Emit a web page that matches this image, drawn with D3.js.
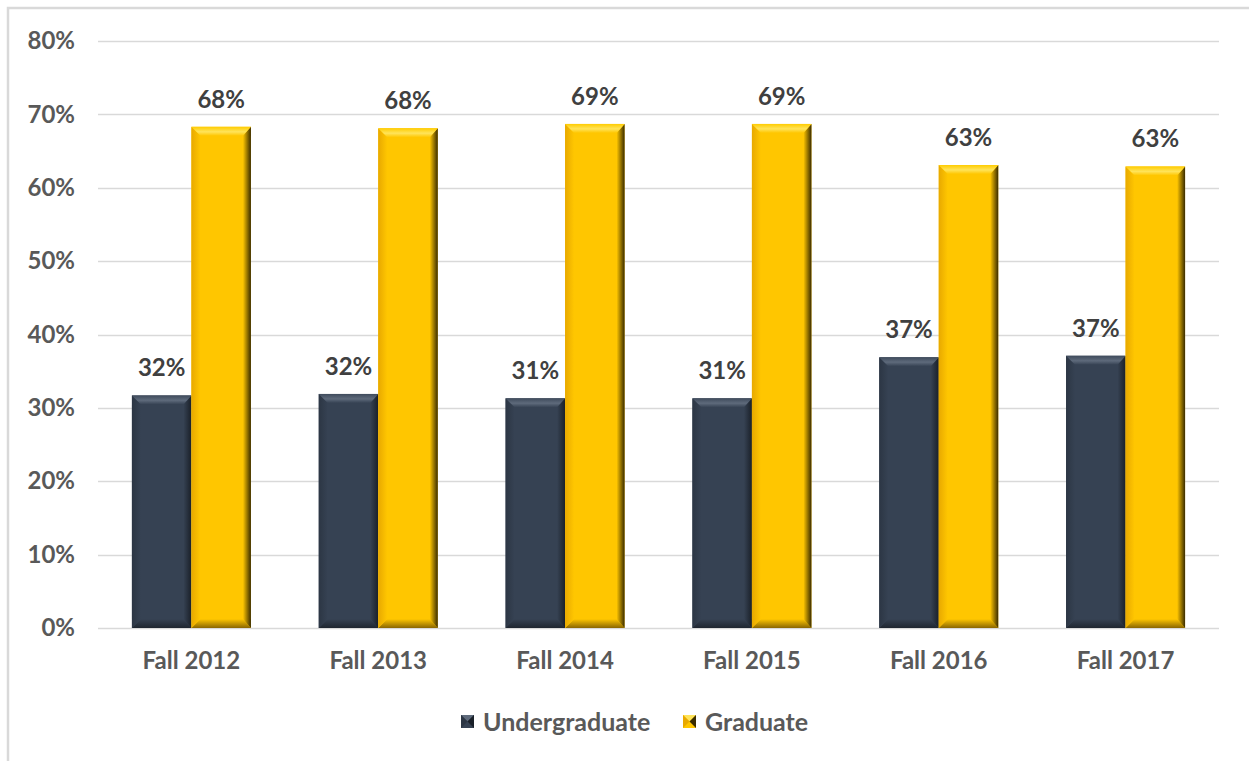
<!DOCTYPE html>
<html><head><meta charset="utf-8">
<script src="https://cdn.jsdelivr.net/npm/d3@7"></script>
<style>body{margin:0;background:#fff}svg{display:block}</style>
</head><body>
<script>
const categories = ["Fall 2012","Fall 2013","Fall 2014","Fall 2015","Fall 2016","Fall 2017"];
const seriesNames = ["Undergraduate","Graduate"];
const undergraduate = [31.7, 31.9, 31.3, 31.3, 36.9, 37.1];
const graduate = [68.3, 68.1, 68.7, 68.7, 63.1, 62.9];
const undergradLabels = ["32%","32%","31%","31%","37%","37%"];
const gradLabels = ["68%","68%","69%","69%","63%","63%"];
const yTicks = [0,10,20,30,40,50,60,70,80];

const W = 1249, H = 761;
const svg = d3.select("body").append("svg").attr("width", W).attr("height", H);
const font = "Lato, 'Open Sans', sans-serif";
const txt = "#595959";
const defs = svg.append("defs");

// outer border
svg.append("rect").attr("x", 8).attr("y", 8).attr("width", W).attr("height", H)
  .attr("fill", "none").attr("stroke", "#d9d9d9").attr("stroke-width", 2.5);

const x0 = d3.scaleBand().domain(categories).range([98, 1219]);
const x1 = d3.scaleBand().domain(seriesNames).range([0, x0.bandwidth()]).paddingOuter(0.57).paddingInner(0);
const y = d3.scaleLinear().domain([0, 80]).range([628, 41]);

// grid
svg.append("g").selectAll("line").data(yTicks).join("line")
  .attr("x1", 98).attr("x2", 1219)
  .attr("y1", d => Math.round(y(d)) + 0.5).attr("y2", d => Math.round(y(d)) + 0.5)
  .attr("stroke", "#d9d9d9").attr("stroke-width", 1.5);

// y axis labels
const yAxis = d3.axisLeft(y).tickValues(yTicks).tickFormat(d => d + "%").tickSize(0).tickPadding(0);
const ya = svg.append("g").attr("transform", "translate(75,0)").call(yAxis);
ya.select(".domain").remove();
ya.selectAll("text").attr("font-family", font).attr("font-weight", 700)
  .attr("font-size", 24).attr("fill", txt);

// x axis labels
const xAxis = d3.axisBottom(x0).tickSize(0).tickPadding(0);
const xa = svg.append("g").attr("transform", "translate(0,652)").call(xAxis);
xa.select(".domain").remove();
xa.selectAll("text").attr("font-family", font).attr("font-weight", 700)
  .attr("font-size", 24).attr("fill", txt);

const styles = {
  Undergraduate: {id:"ug", base:"#364253", topA:"#3f4b5c", topB:"#5e6a7b", left:["#2c3644","#364253"], right:["#364253","#1a2029"], bottom:["#364253","#1f2630"]},
  Graduate: {id:"gr", base:"#ffc600", topA:"#ffcc00", topB:"#ffe45a", left:["#e8a900","#ffc600"], right:["#ffc600","#3a2c00"], bottom:["#ffc600","#8a6600"]}
};

function grad(id, stops, vertical) {
  const g = defs.append("linearGradient").attr("id", id)
    .attr("x1", 0).attr("y1", 0).attr("x2", vertical ? 0 : 1).attr("y2", vertical ? 1 : 0);
  stops.forEach(([o, c]) => g.append("stop").attr("offset", o).attr("stop-color", c));
}
Object.values(styles).forEach(s => {
  grad(s.id + "-top", [[0, s.topA], [0.55, s.topB], [1, s.base]], true);
  grad(s.id + "-left", [[0, s.left[0]], [1, s.left[1]]], false);
  grad(s.id + "-right", [[0, s.right[0]], [1, s.right[1]]], false);
  grad(s.id + "-bottom", [[0, s.bottom[0]], [1, s.bottom[1]]], true);
});

function bevelBar(g, xL, yT, w, h, s) {
  const b = Math.min(9, h / 2), br = 8, xr = xL + w, yb = yT + h;
  g.append("rect").attr("x", xL).attr("y", yT).attr("width", w).attr("height", h).attr("fill", s.base);
  g.append("polygon").attr("points", [[xL,yb],[xL+b,yb-b],[xr-br,yb-b],[xr,yb]].join(" ")).attr("fill", `url(#${s.id}-bottom)`);
  g.append("polygon").attr("points", [[xL,yT],[xL+b,yT+b],[xL+b,yb-b],[xL,yb]].join(" ")).attr("fill", `url(#${s.id}-left)`);
  g.append("polygon").attr("points", [[xr,yT],[xr-br,yT+b],[xr-br,yb-b],[xr,yb]].join(" ")).attr("fill", `url(#${s.id}-right)`);
  g.append("polygon").attr("points", [[xL,yT],[xr,yT],[xr-br,yT+b],[xL+b,yT+b]].join(" ")).attr("fill", `url(#${s.id}-top)`);
}

const bars = svg.append("g");
categories.forEach((c, i) => {
  [[seriesNames[0], undergraduate[i], undergradLabels[i]], [seriesNames[1], graduate[i], gradLabels[i]]].forEach(([s, v, lab]) => {
    const xL = x0(c) + x1(s), w = x1.bandwidth();
    bevelBar(bars, xL, y(v), w, y(0) - y(v), styles[s]);
    svg.append("text").attr("x", xL + w / 2).attr("y", y(v) - 19)
      .attr("text-anchor", "middle").attr("font-family", font).attr("font-weight", 700)
      .attr("font-size", 24).attr("fill", "#404040").text(lab);
  });
});

// legend
const legend = [{name:"Undergraduate", x:461}, {name:"Graduate", x:683}];
legend.forEach(l => {
  const s = styles[l.name];
  const g = svg.append("g");
  g.append("rect").attr("x", l.x).attr("y", 715).attr("width", 13).attr("height", 13).attr("fill", s.base);
  g.append("polygon").attr("points", [[l.x,715],[l.x+13,715],[l.x+6.5,721.5]].join(" ")).attr("fill", s.topB);
  g.append("polygon").attr("points", [[l.x,715],[l.x+6.5,721.5],[l.x,728]].join(" ")).attr("fill", s.left[0]);
  g.append("polygon").attr("points", [[l.x+13,715],[l.x+13,728],[l.x+6.5,721.5]].join(" ")).attr("fill", s.right[1]);
  g.append("text").attr("x", l.x + 22).attr("y", 722).attr("dy", "0.35em")
    .attr("font-family", font).attr("font-weight", 700).attr("font-size", 25).attr("fill", txt).text(l.name);
});
</script>
</body></html>
